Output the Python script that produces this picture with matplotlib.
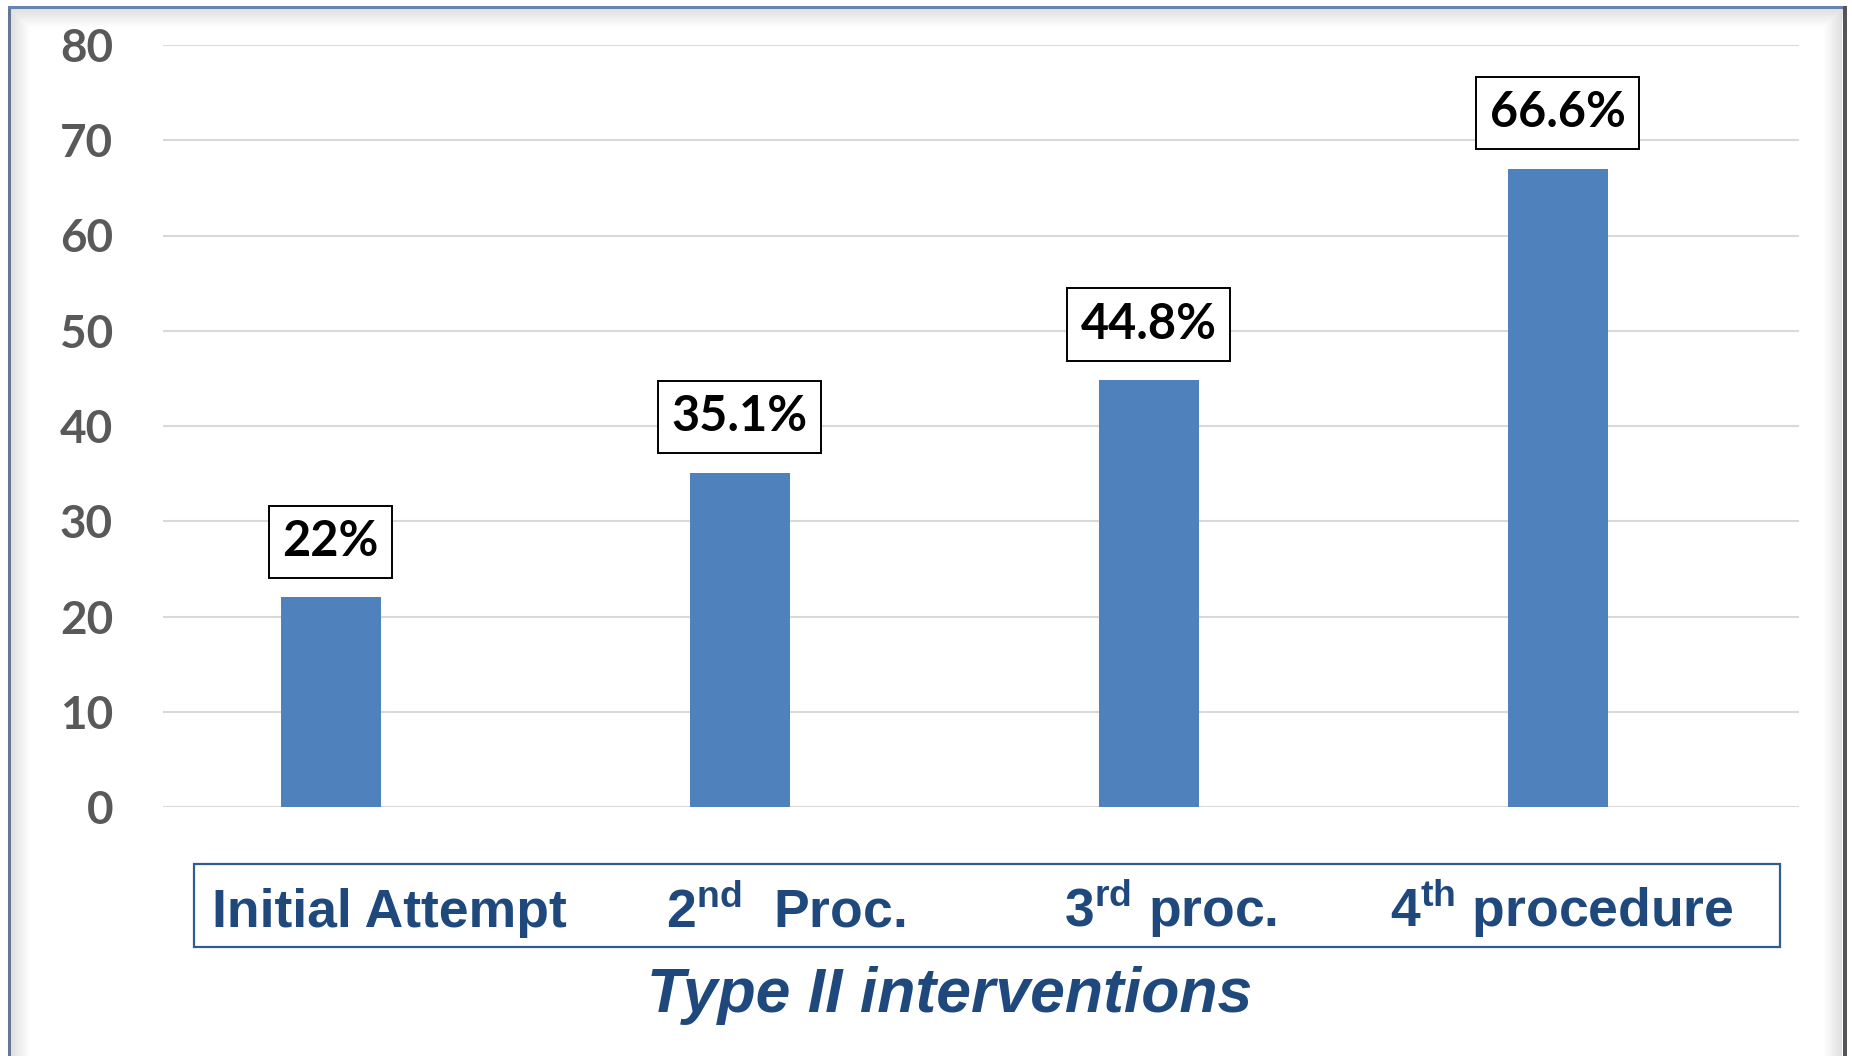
import numpy as np
import matplotlib
matplotlib.use("Agg")
import matplotlib.pyplot as plt
from matplotlib.patches import Rectangle

# DATA:

categories = ["Initial Attempt", "2$^{\\mathbf{nd}}$  Proc.", "3$^{\\mathbf{rd}}$ proc.", "4$^{\\mathbf{th}}$ procedure"]
values = [22.0, 35.1, 44.8, 67.0]          # bar heights as drawn
value_labels = ["22%", "35.1%", "44.8%", "66.6%"]
y_ticks = [0, 10, 20, 30, 40, 50, 60, 70, 80]
x_title = "Type II interventions"

# SETUP:

W, H = 1852, 1056
DPI = 100
BAR_COLOR = "#4F81BD"
GRID_COLOR = "#D9D9D9"
TICK_COLOR = "#595959"
NAVY = "#1F497D"
BOX_EDGE = "#2E5C93"
LABEL_X_PX = [389, 786, 1171, 1562]   # centres of the category texts

plt.rcParams["mathtext.fontset"] = "custom"
plt.rcParams["mathtext.rm"] = "Liberation Sans"
plt.rcParams["mathtext.bf"] = "Liberation Sans:bold"


def frame_background():
    # white page with a thin border and a soft inner bevel
    cols = np.arange(W)
    rows = np.arange(H)

    def fade(d):
        return np.where(d < 0, 1.0, np.clip(0.88 + 0.12 * d / 18.0, 0.88, 1.0))

    shade = np.minimum(fade(cols - 11)[None, :], fade(rows - 9)[:, None])
    shade = np.minimum(shade, fade(1841 - cols)[None, :])
    img = np.repeat(shade[:, :, None], 3, axis=2)
    img[:, :8] = 1.0
    img[:6, :] = 1.0
    img[:, 1847:] = 1.0
    img[6:, 8:11] = (0.40, 0.47, 0.58)
    img[6:9, 8:1847] = (0.40, 0.52, 0.68)
    img[6:, 1843:1847] = (0.33, 0.33, 0.35)
    return img


fig = plt.figure(figsize=(W / DPI, H / DPI), dpi=DPI)
fig.figimage(frame_background(), xo=0, yo=0, origin="upper", zorder=-10)

ax = fig.add_axes([163 / W, 249 / H, 1636 / W, 762 / H])
ax.patch.set_alpha(0)
ax.set_zorder(1)

x = np.arange(len(values))
bars = ax.bar(x, values, width=0.245, color=BAR_COLOR, zorder=3)

for xi, v, lab in zip(x, values, value_labels):
    ax.annotate(lab, (xi, v), xytext=(0, 24), textcoords="offset points",
                ha="center", va="bottom", fontsize=35, fontweight="bold",
                family="Lato", color="black", zorder=5,
                bbox=dict(boxstyle="square,pad=0.28", fc="white", ec="black", lw=1.4))

ax.set_xlim(-0.41, 3.59)
ax.set_ylim(0, 80)
ax.set_yticks(y_ticks)
ax.set_yticklabels([str(t) for t in y_ticks], fontsize=33, fontweight="bold",
                   family="Lato", color=TICK_COLOR)
ax.tick_params(axis="y", length=0, pad=36)
ax.set_xticks([])
ax.grid(axis="y", color=GRID_COLOR, lw=1.5, zorder=0)
for s in ax.spines.values():
    s.set_visible(False)

# category box below the plot
fig.patches.append(Rectangle((194 / W, 1 - 947 / H), 1586 / W, 83 / H,
                             transform=fig.transFigure, fc="white", ec=BOX_EDGE, lw=1.6))
for px, cat in zip(LABEL_X_PX, categories):
    fig.text(px / W, 1 - 927 / H, cat, ha="center", va="baseline", fontsize=38.5,
             fontweight="bold", family="Liberation Sans", color=NAVY)

fig.text(950 / W, 1 - 1012 / H, x_title, ha="center", va="baseline", fontsize=45,
         fontweight="bold", style="italic", family="Liberation Sans", color=NAVY)

fig.savefig("out.png", dpi=DPI)
